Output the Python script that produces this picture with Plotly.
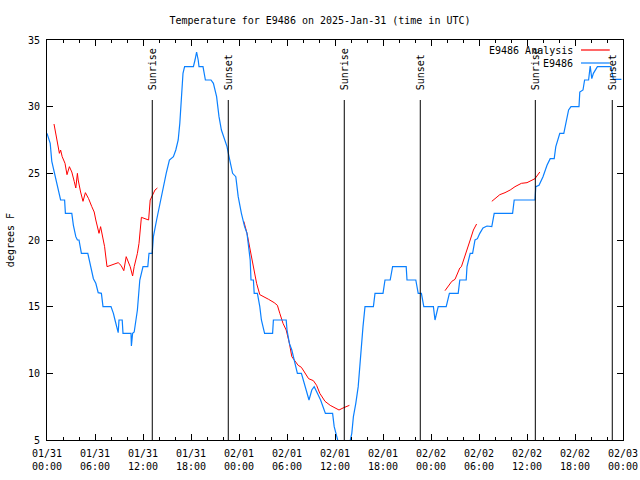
import pandas as pd
import plotly.graph_objects as go

BASE = pd.Timestamp("2025-01-31 00:00")

# Observed station temperature (hours after 01/31 00:00 UTC, degrees F)
obs_hours = [0, 0.4, 0.6, 0.9, 1.1, 1.4, 1.7, 2.2, 2.3, 3.1, 3.3, 3.6, 3.8, 4.0, 4.3, 5.1, 5.4, 5.8,
             6.1, 6.4, 6.8, 7.0, 8.0, 8.3, 8.5, 8.8, 8.9, 9.0, 9.4, 9.5, 10.5, 10.55, 10.7, 10.9,
             11.3, 11.6, 12.0, 12.6, 12.75, 13.15, 13.3, 13.7, 14.2, 14.5, 14.9, 15.3, 15.8, 16.1,
             16.4, 16.6, 16.8, 17.0, 17.2, 18.3, 18.5, 18.7, 18.9, 19.0, 19.5, 19.8, 20.5, 20.8,
             21.2, 21.5, 21.8, 22.1, 22.5, 22.7, 22.9, 23.2, 23.6, 23.9, 24.3, 24.7, 25.0, 25.2,
             25.4, 25.5, 25.8, 25.9, 26.3, 26.6, 26.8, 27.2, 28.2, 28.3, 29.9, 30.0, 30.3, 30.6,
             30.9, 31.3, 31.8, 32.25, 32.75, 33.1, 33.4, 33.8, 34.2, 34.8, 35.7, 35.9, 36.3, 37.2,
             38.1, 38.3, 38.6, 38.9, 39.1, 39.3, 39.5, 39.75, 40.8, 41.0, 42.0, 42.25, 42.9, 43.2,
             44.9, 45.0, 46.1, 46.4, 46.8, 47.1, 48.3, 48.5, 48.7, 48.9, 49.9, 50.3, 51.4, 51.6,
             52.4, 52.5, 52.9, 53.2, 53.5, 53.8, 54.1, 54.5, 55.0, 55.6, 55.9, 58.2, 58.4, 61.0,
             61.1, 61.5, 62.0, 62.5, 62.9, 63.4, 63.6, 64.1, 64.6, 64.9, 65.2, 65.5, 66.5, 66.6,
             67.0, 67.2, 67.7, 67.9, 68.1, 68.3, 68.8, 70.5, 70.7, 70.8, 71.8]
obs_temps = [28.0, 27.25, 25.9, 25.1, 24.75, 23.75, 23.0, 23.0, 22.0, 22.0, 21.1, 20.25, 20.0, 20.0,
             19.0, 19.0, 18.25, 17.1, 16.75, 16.05, 16.0, 15.0, 15.0, 14.5, 14.0, 13.4, 13.05, 14.0,
             14.0, 13.0, 13.0, 12.05, 13.0, 13.1, 14.75, 17.0, 18.0, 18.0, 19.0, 19.0, 20.25, 21.5,
             23.0, 24.0, 25.0, 26.0, 26.25, 26.75, 27.5, 28.75, 30.5, 32.5, 33.0, 33.0, 33.5, 34.1,
             33.5, 33.0, 33.0, 32.0, 32.0, 31.75, 30.75, 29.25, 28.25, 27.75, 27.0, 26.4, 25.75,
             25.0, 24.75, 23.25, 22.0, 21.0, 20.5, 19.25, 18.5, 17.0, 17.0, 16.0, 16.0, 15.0, 14.0,
             13.0, 13.0, 14.0, 14.0, 13.25, 12.25, 11.75, 11.0, 10.0, 10.0, 9.0, 8.0, 8.75, 9.0,
             8.5, 8.0, 7.0, 7.0, 6.0, 5.0, 3.0, 5.5, 6.75, 7.75, 9.0, 10.5, 12.25, 13.5, 15.0, 15.0,
             16.0, 16.0, 17.0, 17.0, 18.0, 18.0, 17.0, 17.0, 16.0, 16.0, 15.0, 15.0, 14.0, 14.5,
             15.0, 15.0, 16.0, 16.0, 17.0, 17.0, 18.0, 19.0, 19.0, 20.0, 20.1, 20.5, 20.9, 21.05,
             21.0, 22.0, 22.0, 23.0, 23.0, 24.0, 24.1, 24.75, 25.6, 26.1, 26.1, 27.0, 28.0, 28.0,
             28.9, 29.75, 30.0, 30.0, 31.1, 31.25, 32.0, 32.0, 33.05, 32.1, 32.5, 33.0, 33.0, 32.5,
             32.05, 32.05]

# Analysis temperature (None = gap)
ana_hours = [0.875, 1.1, 1.3, 1.55, 1.7, 1.9, 2.25, 2.5, 2.8, 3.1, 3.4, 3.6, 3.8, 3.9, 4.2, 4.5,
             4.8, 5.2, 5.6, 5.9, 6.1, 6.3, 6.5, 6.7, 6.9, 7.2, 7.5, 7.7, 8.1, 8.9, 9.25, 9.6, 9.9,
             10.0, 10.4, 10.7, 10.9, 11.3, 11.5, 11.8, 12.2, 12.7, 12.9, 13.3, 13.5, 13.8, None,
             24.6, 25.0, 25.4, 25.8, 26.2, 26.6, 27.0, 27.7, 28.4, 28.8, 29.1, 29.5, 29.9, 30.3,
             30.6, 31.0, 31.4, 31.8, 32.25, 32.7, 33.3, 33.7, 34.1, 34.75, 35.4, 36.0, 36.5, 37.0,
             37.5, 37.8, None,
             49.75, 50.2, 50.6, 51.0, 51.3, 51.6, 51.8, 52.1, 52.5, 52.9, 53.3, 53.7, None,
             55.6, 56.0, 56.6, 57.25, 57.9, 58.5, 59.3, 60.0, 60.6, 61.0, 61.6]
ana_temps = [28.7, 28.05, 27.25, 26.5, 26.75, 26.25, 25.75, 24.9, 25.5, 25.1, 24.4, 23.9, 25.0,
             24.5, 23.6, 22.9, 23.55, 23.1, 22.5, 22.1, 21.5, 21.0, 20.5, 21.0, 20.4, 19.5, 18.0,
             18.05, 18.1, 18.3, 18.1, 17.7, 18.75, 18.6, 18.0, 17.3, 18.0, 19.0, 19.75, 21.7, 21.6,
             21.5, 23.0, 23.5, 23.75, 23.9, None,
             21.4, 20.5, 19.25, 18.0, 16.75, 15.9, 15.75, 15.55, 15.3, 15.1, 14.5, 13.75, 13.25,
             12.25, 11.25, 10.9, 10.6, 10.45, 10.0, 9.6, 9.45, 9.1, 8.5, 7.9, 7.6, 7.4, 7.25, 7.4,
             7.55, 7.6, None,
             16.2, 16.55, 16.9, 17.05, 17.5, 17.9, 18.0, 18.5, 19.25, 20.0, 20.75, 21.2, None,
             22.9, 23.1, 23.4, 23.55, 23.75, 24.0, 24.25, 24.3, 24.45, 24.6, 25.1]

event_labels = ["Sunrise", "Sunset", "Sunrise", "Sunset", "Sunrise", "Sunset"]
event_hours = [13.16, 22.66, 37.16, 46.66, 61.04, 70.66]

y_ticks = [5, 10, 15, 20, 25, 30, 35]


def to_time(hours):
    return [None if h is None else BASE + pd.Timedelta(hours=h) for h in hours]


FONT = "DejaVu Sans Mono"
RED = "#ff0000"
BLUE = "#0a80ff"
W, H = 640, 480

fig = go.Figure()
fig.add_trace(go.Scatter(x=to_time(ana_hours), y=ana_temps, mode="lines",
                         line=dict(color=RED, width=1), name="E9486 Analysis",
                         connectgaps=False))
fig.add_trace(go.Scatter(x=to_time(obs_hours), y=obs_temps, mode="lines",
                         line=dict(color=BLUE, width=1.2), name="E9486"))

for lab, h in zip(event_labels, event_hours):
    t = BASE + pd.Timedelta(hours=h)
    fig.add_shape(type="line", xref="x", yref="paper", x0=t, x1=t, y0=0, y1=0.85,
                  line=dict(color="black", width=1))
    fig.add_annotation(x=t, xref="x", y=0.87, yref="paper", text=lab, textangle=-90,
                       showarrow=False, xanchor="center", yanchor="bottom",
                       font=dict(family=FONT, size=10, color="black"))

# manual gnuplot-style legend (text then sample line)
legend_rows = [("E9486 Analysis", RED, 0.975), ("E9486", BLUE, 0.9425)]
for text, col, yy in legend_rows:
    fig.add_annotation(x=0.917, xref="paper", y=yy, yref="paper", text=text, showarrow=False,
                       xanchor="right", yanchor="middle",
                       font=dict(family=FONT, size=10, color="black"))
    fig.add_shape(type="line", xref="paper", yref="paper", x0=0.927, x1=0.977, y0=yy, y1=yy,
                  line=dict(color=col, width=1.2))

fig.add_annotation(x=-0.064, xref="paper", y=0.5, yref="paper", text="degrees F",
                   textangle=-90, showarrow=False, xanchor="center", yanchor="middle",
                   font=dict(family=FONT, size=10, color="black"))

fig.update_layout(
    width=W, height=H,
    margin=dict(l=47, r=17, t=40, b=40),
    paper_bgcolor="white", plot_bgcolor="white",
    showlegend=False,
    font=dict(family=FONT, size=10, color="black"),
    title=dict(text="Temperature for E9486 on 2025-Jan-31 (time in UTC)",
               x=0.5, xanchor="center", y=1 - 20 / H, yanchor="middle", yref="container",
               font=dict(family=FONT, size=10, color="black")),
)
fig.update_xaxes(
    type="date",
    range=[BASE, BASE + pd.Timedelta(hours=72)],
    tick0=BASE, dtick=6 * 3600 * 1000,
    tickformat="%m/%d<br>%H:%M",
    ticks="inside", ticklen=6, tickcolor="black",
    minor=dict(dtick=2 * 3600 * 1000, ticks="inside", ticklen=3, tickcolor="black"),
    showline=True, linecolor="black", linewidth=1, mirror="ticks",
    showgrid=False, zeroline=False, automargin=False, ticklabelstandoff=4,
    ticklabeloverflow="allow",
)
fig.update_yaxes(
    range=[5, 35], tickvals=y_ticks,
    ticks="inside", ticklen=6, tickcolor="black",
    showline=True, linecolor="black", linewidth=1, mirror="ticks",
    showgrid=False, zeroline=False, automargin=False, ticklabelstandoff=4,
)

# remove the default 8px page margin so the 640x480 figure fills the window exactly
fig.write_html("out.html",
               config={"displayModeBar": False},
               post_script="document.body.style.margin='0';document.body.style.overflow='hidden';")
